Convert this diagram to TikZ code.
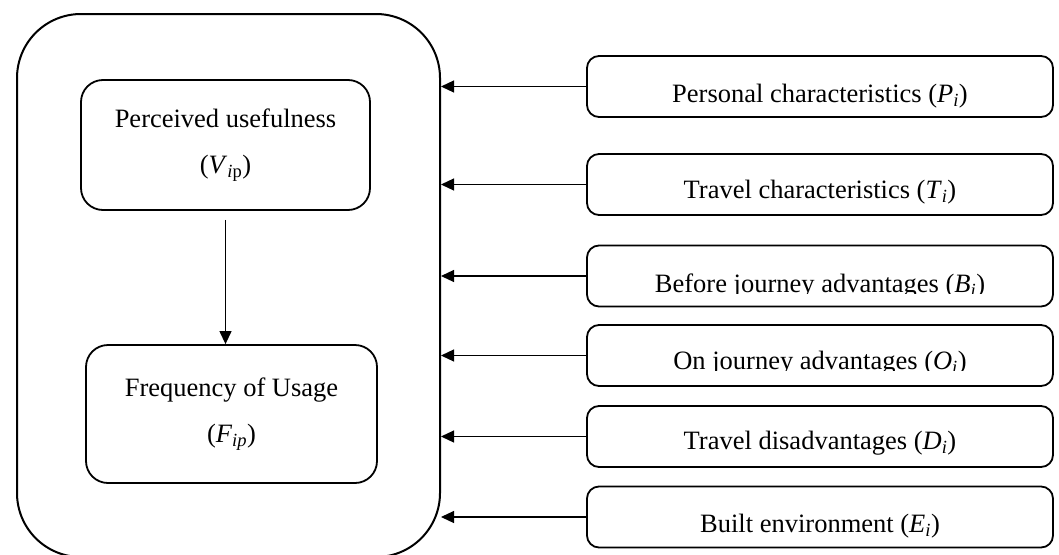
\documentclass[tikz,border=0pt]{standalone}
\usepackage{fontspec}
\setmainfont{Liberation Serif}
\usetikzlibrary{arrows.meta,positioning}

\tikzset{
  frame/.style={draw, line width=2pt, rounded corners=64pt, minimum width=423pt, minimum height=543pt},
  inbox/.style={draw, line width=1.8pt, rounded corners=22pt, align=center, font=\fontsize{26.5}{46}\selectfont},
  factor/.style={draw, line width=1.8pt, rounded corners=12pt, minimum width=466pt, minimum height=61pt},
  factxt/.style={anchor=base, inner sep=0pt, font=\fontsize{26.5}{30}\selectfont},
  link/.style={-{Triangle[length=13pt,width=12pt]}, line width=1.2pt}
}

\begin{document}
\begin{tikzpicture}[x=1pt, y=-1pt]
 \useasboundingbox (0,0) rectangle (1059,554);

 % model
 \node[frame] (model) at (228.5,285.5) {};
 \node[inbox, minimum width=289pt, minimum height=130pt] (pu) at (225.5,145)
   {Perceived usefulness\\(\textit{V}\textsubscript{\textit{i}p})};
 \node[inbox, minimum width=291pt, minimum height=138pt] (fu) at (231.5,414)
   {Frequency of Usage\\(\textit{F}\textsubscript{\textit{ip}})};
 \draw[link] ([yshift=-9pt]pu.south) -- (pu.south |- fu.north);

 % factors
 \foreach \n/\y/\up/\cut/\txt in {
   pc/86.5/15/0/{Personal characteristics (\textit{P}\textsubscript{\textit{i}})},
   tc/184.5/17/0/{Travel characteristics (\textit{T}\textsubscript{\textit{i}})},
   bj/276/15/14/{Before journey advantages (\textit{B}\textsubscript{\textit{i}})},
   oj/355.5/17/16/{On journey advantages (\textit{O}\textsubscript{\textit{i}})},
   td/436.5/18/0/{Travel disadvantages (\textit{D}\textsubscript{\textit{i}})},
   be/517/16/0/{Built environment (\textit{E}\textsubscript{\textit{i}})} } {
   \node[factor] (\n) at (820,\y) {};
   \begin{scope}
     \clip (\n.north west) rectangle ([yshift=\cut pt]\n.south east);
     \node[factxt] (\n-txt) at ([yshift=\up pt]\n.south) {\txt};
   \end{scope}
   \draw[link] (\n.west) -- (model.east |- \n.west);
 }

\end{tikzpicture}
\end{document}
